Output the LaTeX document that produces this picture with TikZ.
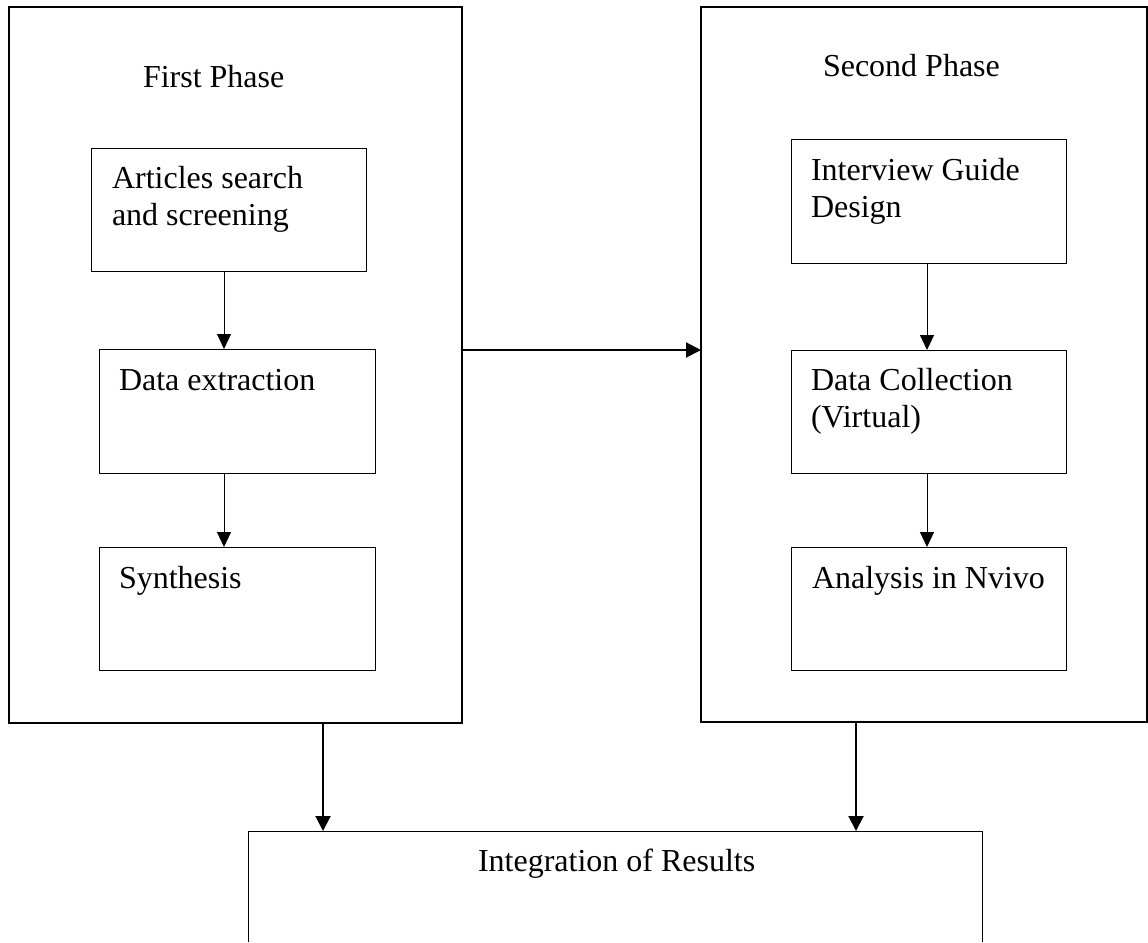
\documentclass[tikz,border=0pt]{standalone}
\usepackage{fontspec}
\setmainfont{Liberation Serif}
\usetikzlibrary{arrows.meta}
\begin{document}
\begin{tikzpicture}[x=1pt,y=-1pt,
  every node/.style={font=\fontsize{32}{37}\selectfont, inner sep=0pt, outer sep=0pt},
  frame/.style={draw, line width=1.2pt, rectangle, anchor=north west},
  stepbox/.style={draw, line width=1pt, rectangle, anchor=north west},
  lbl/.style={anchor=base west},
  thinarr/.style={line width=1pt, -{Triangle[length=15pt,width=14pt]}},
  thickarr/.style={line width=2pt, -{Triangle[length=15pt,width=15pt]}}]
\useasboundingbox (0,0) rectangle (1148,942);
\fill[white] (0,0) rectangle (1148,942);

% phase frames
\node[frame, minimum width=453pt, minimum height=716pt] (L) at (9,7) {};
\node[frame, minimum width=446pt, minimum height=715pt] (R) at (701,7) {};
\node[lbl] (tL) at (143,87) {First Phase};
\node[lbl] (tR) at (823,77) {Second Phase};

% first phase boxes
\node[stepbox, minimum width=275pt, minimum height=123pt] (A) at (91,148) {};
\node[stepbox, minimum width=276pt, minimum height=124pt] (B) at (99,349) {};
\node[stepbox, minimum width=276pt, minimum height=123pt] (C) at (99,547) {};
\node[lbl] (tA) at (112,188) {\begin{tabular}[t]{@{}l@{}}Articles search\\and screening\end{tabular}};
\node[lbl] (tB) at (119,390) {Data extraction};
\node[lbl] (tC) at (119,588) {Synthesis};

% second phase boxes
\node[stepbox, minimum width=275pt, minimum height=124pt] (D) at (791,139) {};
\node[stepbox, minimum width=275pt, minimum height=123pt] (E) at (791,350) {};
\node[stepbox, minimum width=275pt, minimum height=123pt] (F) at (791,547) {};
\node[lbl] (tD) at (811,180) {\begin{tabular}[t]{@{}l@{}}Interview Guide\\Design\end{tabular}};
\node[lbl] (tE) at (811,390) {\begin{tabular}[t]{@{}l@{}}Data Collection\\(Virtual)\end{tabular}};
\node[lbl] (tF) at (812,588) {Analysis in Nvivo};

% integration box (bottom edge outside picture)
\node[anchor=north west, minimum width=734pt, minimum height=111pt] (I) at (248,831) {};
\draw[line width=1pt] (I.south west) -- (I.north west) -- (I.north east) -- (I.south east);
\node[lbl] (tI) at (478,871) {Integration of Results};

% connectors
\draw[thinarr] (A.south -| 224,0) -- (B.north -| 224,0);
\draw[thinarr] (B.south -| 224,0) -- (C.north -| 224,0);
\draw[thinarr] (D.south -| 927,0) -- (E.north -| 927,0);
\draw[thinarr] (E.south -| 927,0) -- (F.north -| 927,0);
\draw[thickarr] (L.east |- 0,350) -- (R.west |- 0,350);
\draw[thickarr] (L.south -| 323,0) -- (I.north -| 323,0);
\draw[thickarr] (R.south -| 856,0) -- (I.north -| 856,0);
\end{tikzpicture}
\end{document}
